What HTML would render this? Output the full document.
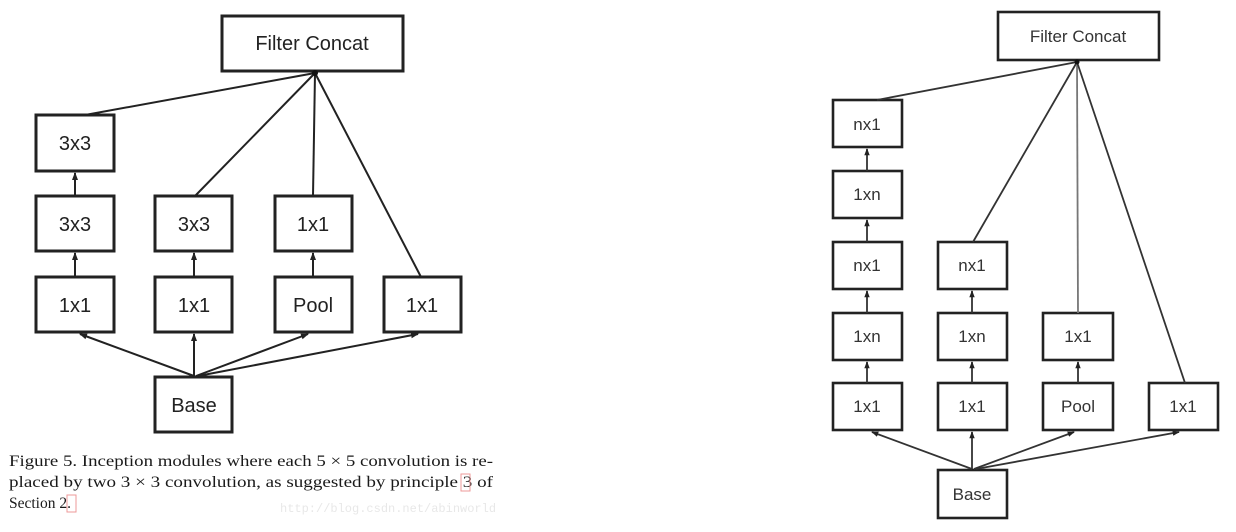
<!DOCTYPE html>
<html><head><meta charset="utf-8"><style>
html,body{margin:0;padding:0;background:#fff;}
svg{display:block;}
</style></head><body>
<svg width="1236" height="532" viewBox="0 0 1236 532" xmlns="http://www.w3.org/2000/svg">
<defs>
<marker id="ah" markerWidth="4" markerHeight="4" refX="3.5" refY="2" orient="auto" markerUnits="strokeWidth"><path d="M0,0.5 L4,2 L0,3.5 z" fill="#222"/></marker>
</defs>
<g fill="#fff" stroke="#222" stroke-width="3">
<rect x="222" y="16" width="181" height="55"/>
<rect x="36" y="115" width="78" height="56"/>
<rect x="36" y="196" width="78" height="55"/>
<rect x="155" y="196" width="77" height="55"/>
<rect x="275" y="196" width="77" height="55"/>
<rect x="36" y="277" width="78" height="55"/>
<rect x="155" y="277" width="77" height="55"/>
<rect x="275" y="277" width="77" height="55"/>
<rect x="384" y="277" width="77" height="55"/>
<rect x="155" y="377" width="77" height="55"/>
</g>
<g stroke="#222" stroke-width="2" fill="none">
<line x1="315" y1="73" x2="85" y2="115"/>
<line x1="315" y1="73" x2="195" y2="196"/>
<line x1="315" y1="73" x2="313" y2="196"/>
<line x1="315" y1="73" x2="421" y2="277"/>
<line x1="75" y1="196" x2="75" y2="173" marker-end="url(#ah)"/>
<line x1="75" y1="277" x2="75" y2="253" marker-end="url(#ah)"/>
<line x1="194" y1="277" x2="194" y2="253" marker-end="url(#ah)"/>
<line x1="313" y1="277" x2="313" y2="253" marker-end="url(#ah)"/>
<line x1="194" y1="376" x2="80" y2="334" marker-end="url(#ah)"/>
<line x1="194" y1="376" x2="194" y2="334" marker-end="url(#ah)"/>
<line x1="196" y1="376" x2="308" y2="334" marker-end="url(#ah)"/>
<line x1="198" y1="376" x2="418" y2="334" marker-end="url(#ah)"/>
</g>
<circle cx="315" cy="73" r="3" fill="#111"/>
<g font-family="Liberation Sans, Arial, sans-serif" font-size="20" fill="#222" text-anchor="middle">
<text x="312" y="50">Filter Concat</text>
<text x="75" y="150">3x3</text>
<text x="75" y="231">3x3</text>
<text x="194" y="231">3x3</text>
<text x="313" y="231">1x1</text>
<text x="75" y="312">1x1</text>
<text x="194" y="312">1x1</text>
<text x="313" y="312">Pool</text>
<text x="422" y="312">1x1</text>
<text x="194" y="412">Base</text>
</g>
<g font-family="Liberation Serif, Times New Roman, serif" font-size="15.5" fill="#1a1a1a">
<text x="9" y="466" textLength="484" lengthAdjust="spacingAndGlyphs">Figure 5. Inception modules where each 5 × 5 convolution is re-</text>
<text x="9" y="487" textLength="484" lengthAdjust="spacingAndGlyphs">placed by two 3 × 3 convolution, as suggested by principle 3 of</text>
<text x="9" y="508" textLength="62" lengthAdjust="spacingAndGlyphs">Section 2.</text>
</g>
<rect x="461" y="474" width="9" height="17" fill="none" stroke="#e99" stroke-width="1"/>
<rect x="67" y="495" width="9" height="17" fill="none" stroke="#e99" stroke-width="1"/>
<text x="280" y="512" font-family="Liberation Mono, monospace" font-size="12" fill="#e8e8e8">http://blog.csdn.net/abinworld</text>

<g fill="#fff" stroke="#222" stroke-width="2.6">
<rect x="998" y="12" width="161" height="48"/>
<rect x="833" y="100" width="69" height="47"/>
<rect x="833" y="171" width="69" height="47"/>
<rect x="833" y="242" width="69" height="47"/>
<rect x="938" y="242" width="69" height="47"/>
<rect x="833" y="313" width="69" height="47"/>
<rect x="938" y="313" width="69" height="47"/>
<rect x="1043" y="313" width="70" height="47"/>
<rect x="833" y="383" width="69" height="47"/>
<rect x="938" y="383" width="69" height="47"/>
<rect x="1043" y="383" width="70" height="47"/>
<rect x="1149" y="383" width="69" height="47"/>
<rect x="938" y="470" width="69" height="48"/>
</g>
<g stroke="#333" stroke-width="1.8" fill="none">
<line x1="1077" y1="62" x2="877" y2="100"/>
<line x1="1077" y1="62" x2="973" y2="242"/>
<line x1="1077" y1="62" x2="1078" y2="313" stroke="#777"/>
<line x1="1077" y1="62" x2="1185" y2="383"/>
<line x1="867" y1="171" x2="867" y2="149" marker-end="url(#ah)"/>
<line x1="867" y1="242" x2="867" y2="220" marker-end="url(#ah)"/>
<line x1="867" y1="313" x2="867" y2="291" marker-end="url(#ah)"/>
<line x1="867" y1="383" x2="867" y2="362" marker-end="url(#ah)"/>
<line x1="972" y1="313" x2="972" y2="291" marker-end="url(#ah)"/>
<line x1="972" y1="383" x2="972" y2="362" marker-end="url(#ah)"/>
<line x1="1078" y1="383" x2="1078" y2="362" marker-end="url(#ah)"/>
<line x1="972" y1="469" x2="872" y2="432" marker-end="url(#ah)"/>
<line x1="972" y1="469" x2="972" y2="432" marker-end="url(#ah)"/>
<line x1="974" y1="469" x2="1074" y2="432" marker-end="url(#ah)"/>
<line x1="976" y1="469" x2="1179" y2="432" marker-end="url(#ah)"/>
</g>
<circle cx="1077" cy="62" r="2.5" fill="#111"/>
<g font-family="Liberation Sans, Arial, sans-serif" font-size="17" fill="#333" text-anchor="middle">
<text x="1078" y="42">Filter Concat</text>
<text x="867" y="130">nx1</text>
<text x="867" y="200">1xn</text>
<text x="867" y="271">nx1</text>
<text x="972" y="271">nx1</text>
<text x="867" y="342">1xn</text>
<text x="972" y="342">1xn</text>
<text x="1078" y="342">1x1</text>
<text x="867" y="412">1x1</text>
<text x="972" y="412">1x1</text>
<text x="1078" y="412">Pool</text>
<text x="1183" y="412">1x1</text>
<text x="972" y="500">Base</text>
</g>
</svg>
</body></html>
